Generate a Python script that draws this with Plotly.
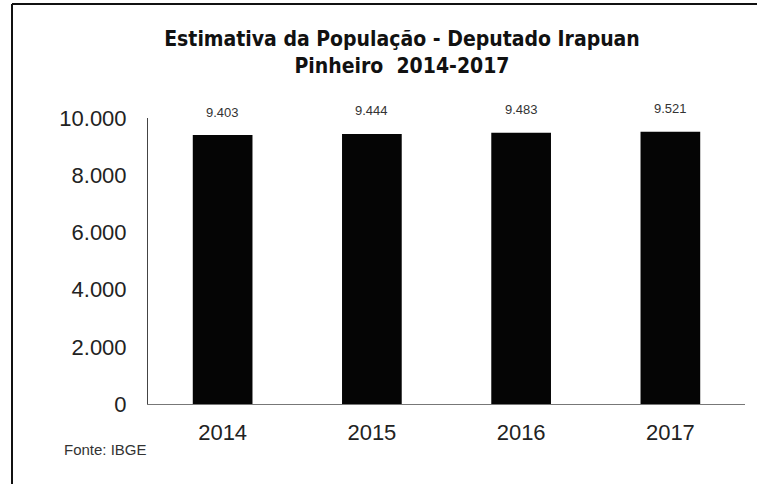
import plotly.graph_objects as go

years = ["2014", "2015", "2016", "2017"]
population = [9403, 9444, 9483, 9521]
y_ticks = [0, 2000, 4000, 6000, 8000, 10000]

# plot-area geometry in page pixels
L, R, T, B, W, H = 148, 745, 118, 404, 757, 484
pw, ph = R - L, B - T

fig = go.Figure()
fig.add_trace(go.Bar(
    x=years, y=population,
    marker=dict(color="#050505", line=dict(width=0)),
    hoverinfo="skip",
))

for i, v in enumerate(population):
    fig.add_annotation(
        x=i, y=v, text=f"{v:,}".replace(",", "."), showarrow=False,
        yshift=23, font=dict(family="Liberation Sans, Arial", size=13, color="#333"),
    )

fig.add_annotation(
    xref="paper", yref="paper", x=(105 - L) / pw, y=(B - 449) / ph,
    xanchor="center", yanchor="middle",
    text="Fonte: IBGE", showarrow=False,
    font=dict(family="Liberation Sans, Arial", size=15, color="#333"),
)

# outer frame (top and left)
fig.add_shape(type="line", xref="paper", yref="paper",
              x0=(12 - L) / pw, x1=(W - L) / pw,
              y0=(B - 4) / ph, y1=(B - 4) / ph,
              line=dict(color="#111", width=2))
fig.add_shape(type="line", xref="paper", yref="paper",
              x0=(12 - L) / pw, x1=(12 - L) / pw,
              y0=(B - 4) / ph, y1=(B - H) / ph,
              line=dict(color="#111", width=2))

fig.update_layout(
    width=W, height=H,
    margin=dict(l=L, r=W - R, t=T, b=H - B),
    paper_bgcolor="white", plot_bgcolor="white",
    separators=",.",
    showlegend=False,
    bargap=0.6,
    title=dict(
        text="<b>Estimativa da População - Deputado Irapuan<br>Pinheiro  2014-2017</b>",
        x=402 / W, xanchor="center", y=1 - 46 / H, yanchor="middle",
        font=dict(family="Liberation Sans Narrow, DejaVu Sans Condensed, Arial", size=21, color="#111"),
    ),
    xaxis=dict(
        type="category", range=[-0.5, len(years) - 0.5],
        showgrid=False, showline=True, linecolor="#777", linewidth=1,
        ticks="", ticklabelstandoff=9,
        tickfont=dict(family="Liberation Sans, Arial", size=22, color="#222"),
    ),
    yaxis=dict(
        range=[0, 10000], tickvals=y_ticks, tickformat=",d",
        showgrid=False, zeroline=False, showline=True, linecolor="#444", linewidth=1,
        ticks="", ticklabelstandoff=16,
        tickfont=dict(family="Liberation Sans, Arial", size=22, color="#222"),
    ),
)

fig.write_html("out.html", config={"displayModeBar": False},
               post_script="document.body.style.margin='0';")
